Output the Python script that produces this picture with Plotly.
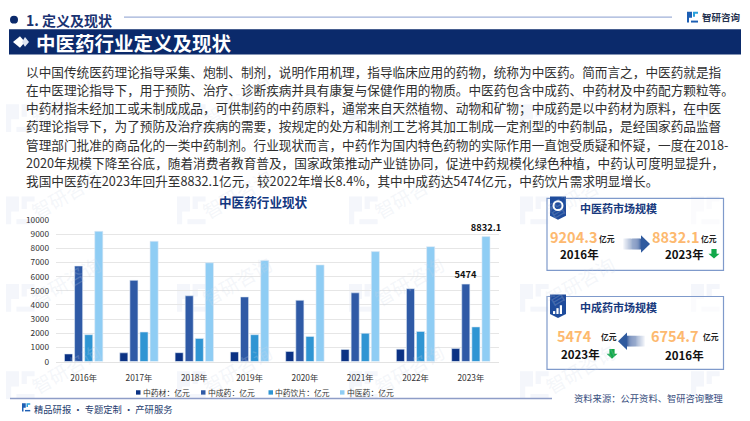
import plotly.graph_objects as go

years = ["2016年", "2017年", "2018年", "2019年", "2020年", "2021年", "2022年", "2023年"]
herbs = [540, 620, 630, 680, 720, 860, 880, 920]
patent = [6754.7, 5740, 4650, 4570, 4330, 4860, 5150, 5474]
pieces = [1900, 2090, 1640, 1900, 1780, 2000, 2130, 2450]
total = [9204.3, 8500, 6980, 7150, 6830, 7770, 8120, 8832.1]
patent_labels = ["", "", "", "", "", "", "", "5474"]
total_labels = ["", "", "", "", "", "", "", "8832.1"]

body_lines = [
    "以中国传统医药理论指导采集、炮制、制剂，说明作用机理，指导临床应用的药物，统称为中医药。简而言之，中医药就是指",
    "在中医理论指导下，用于预防、治疗、诊断疾病并具有康复与保健作用的物质。中医药包含中成药、中药材及中药配方颗粒等。",
    "中药材指未经加工或未制成成品，可供制药的中药原料，通常来自天然植物、动物和矿物；中成药是以中药材为原料，在中医",
    "药理论指导下，为了预防及治疗疾病的需要，按规定的处方和制剂工艺将其加工制成一定剂型的中药制品，是经国家药品监督",
    "管理部门批准的商品化的一类中药制剂。行业现状而言，中药作为国内特色药物的实际作用一直饱受质疑和怀疑，一度在2018-",
    "2020年规模下降至谷底，随着消费者教育普及，国家政策推动产业链协同，促进中药规模化绿色种植，中药认可度明显提升，",
    "我国中医药在2023年回升至8832.1亿元，较2022年增长8.4%，其中中成药达5474亿元，中药饮片需求明显增长。",
]

W, H = 750, 421
FONT = "Noto Sans CJK SC"
NAVY = "#0b2a6b"
ORANGE = "#fdb96f"
shapes, anns = [], []


def Y(y):
    return 1 - y / H


def X(x):
    return x / W


def txt(x, y, s, size, color="#222222", bold=False, anchor="left", angle=0):
    anns.append(dict(
        x=X(x), y=Y(y), xref="paper", yref="paper", text=f"<b>{s}</b>" if bold else s,
        showarrow=False, xanchor=anchor, yanchor="middle", textangle=angle, borderpad=0, borderwidth=0,
        font=dict(family=FONT, size=size, color=color), align="left",
    ))


def shp(kind, x0, y0, x1, y1, fill=None, line=None, lw=0, layer="above"):
    shapes.append(dict(
        type=kind, xref="paper", yref="paper", x0=X(x0), x1=X(x1), y0=Y(y0), y1=Y(y1),
        fillcolor=fill, line=dict(color=line or "rgba(0,0,0,0)", width=lw), layer=layer,
    ))


def poly(pts, fill, layer="above", opacity=1):
    path = "M " + " L ".join(f"{X(a):.5f},{Y(b):.5f}" for a, b in pts) + " Z"
    shapes.append(dict(type="path", xref="paper", yref="paper", path=path, fillcolor=fill,
                       line=dict(width=0), layer=layer, opacity=opacity))


def logo(x, y, s, c1="#1d5fb4", c2="#2aa0dc", layer="above", opacity=1):
    poly([(x, y), (x + 5 * s, y), (x + 5 * s, y + 6 * s), (x + 2 * s, y + 6 * s), (x + 2 * s, y + 11 * s),
          (x, y + 11 * s), (x, y)], c1, layer, opacity)
    poly([(x + 6 * s, y), (x + 11 * s, y), (x + 11 * s, y + 2 * s), (x + 8 * s, y + 2 * s),
          (x + 8 * s, y + 5 * s), (x + 6 * s, y + 5 * s)], c2, layer, opacity)
    poly([(x + 4 * s, y + 9 * s), (x + 11 * s, y + 9 * s), (x + 11 * s, y + 11 * s), (x + 4 * s, y + 11 * s)],
         c1, layer, opacity)


def grad_arrow(x_tail, x_head, yc, half=9, head=9):
    n = 16
    d = 1 if x_head > x_tail else -1
    neck = x_head - d * head
    for i in range(n):
        a = x_tail + (neck - x_tail) * i / n
        b = x_tail + (neck - x_tail) * (i + 1) / n
        poly([(a, yc - half * 0.62), (b, yc - half * 0.62), (b, yc + half * 0.62), (a, yc + half * 0.62)],
             f"rgba(40,80,150,{(i + 1) / n * 0.85:.2f})")
    poly([(neck, yc - half), (x_head, yc), (neck, yc + half)], "#2f5a9e")


def down_arrow(x, y):
    poly([(x - 2.6, y - 5), (x + 2.6, y - 5), (x + 2.6, y), (x + 5.5, y), (x, y + 5), (x - 5.5, y), (x - 2.6, y)],
         "#12a84a")


# faint watermark in the background
for wy in [100, 195, 285, 375]:
    for col, wx in enumerate([6, 177, 349, 520, 691]):
        logo(wx, wy, 2.6, "#f4f6fb", "#f4f6fb", "below")
        if col < 4:
            txt(wx + 60, wy - 3, "智研咨询", 19, "rgba(205,215,232,0.22)", angle=-30, anchor="center")

# header
shp("circle", 10, 9, 18, 17, NAVY)
txt(26, 13.5, "1. 定义及现状", 14, "#1a3372", True)
shp("line", 124, 10.5, 672, 10.5, line="#9fb0d8", lw=1.2)
logo(687, 5, 1.0)
txt(702, 10.5, "智研咨询", 9.5, "#25324f", True)
shp("rect", 9, 23, 741, 49, NAVY)
poly([(13, 36), (20, 30), (25, 36), (20, 42)], "#ffffff")
poly([(22, 36), (25, 31), (29, 36), (25, 41)], "#dfe6f3")
txt(35.5, 37, "中医药行业定义及现状", 19.5, "#ffffff", True)

# body copy
for i, line in enumerate(body_lines):
    txt(26, 66 + i * 18.8, line, 12.65, "#303030")

txt(263, 200, "中医药行业现状", 12.6, "#12367f", True, "center")

# panels
for y0, y1 in [(197, 271), (298, 373)]:
    shp("rect", 547, y0, 723.5, y1, "rgba(255,255,255,0.6)", "#7f9acb", 1.2)
    poly([(550, y0 - 2), (566, y0 - 2), (566, y0 + 18), (558, y0 + 22), (550, y0 + 18)], "#1f4c9c")
shp("circle", 553.5, 200, 562.5, 209, None, "#ffffff", 2)
for k, h in enumerate([3, 6, 9]):
    shp("rect", 553 + k * 3.4, 317 - h - 1, 555.2 + k * 3.4, 316, "#ffffff")

txt(580, 207, "中医药市场规模", 11, "#17397d", True)
txt(574, 236.5, "9204.3", 14.5, ORANGE, True, "center")
txt(607, 238, "亿元", 7.8, "#222222", True, "center")
txt(579, 254.5, "2016年", 11.5, "#111111", True, "center")
txt(676, 236.5, "8832.1", 14.5, ORANGE, True, "center")
txt(709, 238, "亿元", 7.8, "#222222", True, "center")
txt(684, 254.5, "2023年", 11.5, "#111111", True, "center")
grad_arrow(623, 650, 244)
down_arrow(714, 254)

txt(580, 309, "中成药市场规模", 11, "#17397d", True)
txt(574, 338, "5474", 14.5, ORANGE, True, "center")
txt(609, 339, "亿元", 7.8, "#222222", True, "center")
txt(580, 357, "2023年", 11.5, "#111111", True, "center")
txt(675, 338, "6754.7", 14.5, ORANGE, True, "center")
txt(711, 339, "亿元", 7.8, "#222222", True, "center")
txt(684, 358, "2016年", 11.5, "#111111", True, "center")
grad_arrow(645, 618, 344)
down_arrow(612, 357)

# footer
shp("line", 10, 403, 552, 403, line="#8e9dc7", lw=1.4)
logo(22, 408, 0.75)
txt(34, 413.5, "精品研报 · 专题定制 · 产研服务", 9.3, "#27406f")
txt(574, 402, "资料来源：公开资料、智研咨询整理", 9.3, "#3a4f80")

series = [
    ("中药材：亿元", herbs, "#0b3284", None),
    ("中成药：亿元", patent, "#2f5aa6", patent_labels),
    ("中药饮片：亿元", pieces, "#2f95d3", None),
    ("中医药：亿元", total, "#8fcdf4", total_labels),
]
legend_x = [136, 201, 268.5, 340]
fig = go.Figure()
for (name, vals, color, labels), lx in zip(series, legend_x):
    fig.add_trace(go.Bar(
        name=name, x=years, y=vals, marker=dict(color=color, line=dict(color="#dfe9f5", width=0.6)),
        text=labels, textposition="outside" if labels else None, cliponaxis=False,
        constraintext="none",
        textfont=dict(family=FONT, size=9.3, color="#111111", weight="bold"),
        hoverinfo="skip", showlegend=False,
    ))
    shp("rect", lx, 394.5, lx + 4.5, 399, color)
    txt(lx + 6.5, 396.8, name, 7.8, "#333333")

fig.update_layout(
    width=W, height=H, margin=dict(l=0, r=0, t=0, b=0), autosize=False,
    paper_bgcolor="#ffffff", plot_bgcolor="rgba(0,0,0,0)",
    barmode="group", bargap=0.27, bargroupgap=0.2,
    font=dict(family=FONT, size=8.5, color="#333333"),
    xaxis=dict(domain=[56 / W, 498.5 / W], tickfont=dict(size=8.3, color="#333333"), showgrid=False,
               showline=True, linecolor="#e3e3e3", linewidth=1, ticks="", ticklabelstandoff=8),
    yaxis=dict(domain=[1 - 365 / H, 1 - 219.3 / H], range=[0, 10000], dtick=1000, showgrid=True,
               gridcolor="#e6e6e6", gridwidth=1.1, zeroline=False, tickfont=dict(size=8.3, color="#333333"),
               ticks="", tickformat="d", ticklabelstandoff=6),
    showlegend=False,
    shapes=shapes, annotations=anns,
)
fig.write_html("out.html", config=dict(displayModeBar=False),
               post_script="document.body.style.margin='0';document.body.style.overflow='hidden';")
